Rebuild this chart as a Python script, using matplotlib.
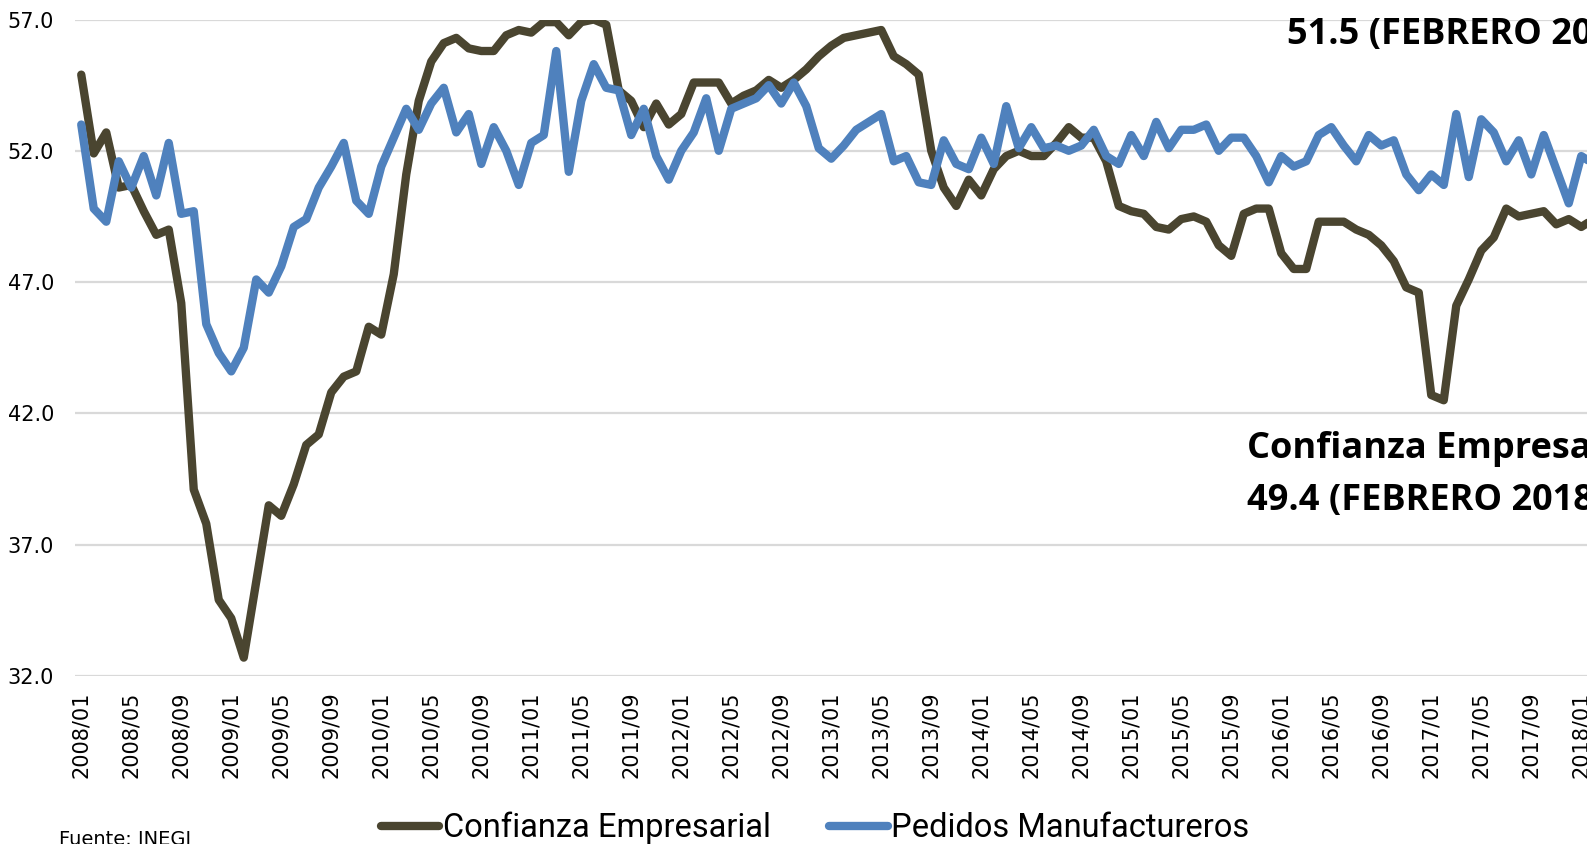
import matplotlib
matplotlib.use("Agg")
import matplotlib.pyplot as plt
import numpy as np
import pandas as pd

# Monthly indices, 2008/01 .. 2018/02
months = pd.period_range("2008-01", "2018-02", freq="M").strftime("%Y/%m").tolist()

confianza = [
    54.9, 51.9, 52.7, 50.6, 50.7, 49.7, 48.8, 49.0, 46.2, 39.1, 37.8, 34.9,
    34.2, 32.7, 35.6, 38.5, 38.1, 39.3, 40.8, 41.2, 42.8, 43.4, 43.6, 45.3,
    45.0, 47.3, 51.1, 53.9, 55.4, 56.1, 56.3, 55.9, 55.8, 55.8, 56.4, 56.6,
    56.5, 56.9, 56.9, 56.4, 56.9, 57.0, 56.8, 54.3, 53.9, 52.9, 53.8, 53.0,
    53.4, 54.6, 54.6, 54.6, 53.8, 54.1, 54.3, 54.7, 54.4, 54.7, 55.1, 55.6,
    56.0, 56.3, 56.4, 56.5, 56.6, 55.6, 55.3, 54.9, 52.0, 50.6, 49.9, 50.9,
    50.3, 51.3, 51.8, 52.0, 51.8, 51.8, 52.3, 52.9, 52.5, 52.5, 51.6, 49.9,
    49.7, 49.6, 49.1, 49.0, 49.4, 49.5, 49.3, 48.4, 48.0, 49.6, 49.8, 49.8,
    48.1, 47.5, 47.5, 49.3, 49.3, 49.3, 49.0, 48.8, 48.4, 47.8, 46.8, 46.6,
    42.7, 42.5, 46.1, 47.1, 48.2, 48.7, 49.8, 49.5, 49.6, 49.7, 49.2, 49.4,
    49.1, 49.4,
]

pedidos = [
    53.0, 49.8, 49.3, 51.6, 50.6, 51.8, 50.3, 52.3, 49.6, 49.7, 45.4, 44.3,
    43.6, 44.5, 47.1, 46.6, 47.6, 49.1, 49.4, 50.6, 51.4, 52.3, 50.1, 49.6,
    51.4, 52.5, 53.6, 52.8, 53.8, 54.4, 52.7, 53.4, 51.5, 52.9, 52.0, 50.7,
    52.3, 52.6, 55.8, 51.2, 53.9, 55.3, 54.4, 54.3, 52.6, 53.6, 51.8, 50.9,
    52.0, 52.7, 54.0, 52.0, 53.6, 53.8, 54.0, 54.5, 53.8, 54.6, 53.7, 52.1,
    51.7, 52.2, 52.8, 53.1, 53.4, 51.6, 51.8, 50.8, 50.7, 52.4, 51.5, 51.3,
    52.5, 51.5, 53.7, 52.1, 52.9, 52.1, 52.2, 52.0, 52.2, 52.8, 51.8, 51.5,
    52.6, 51.8, 53.1, 52.1, 52.8, 52.8, 53.0, 52.0, 52.5, 52.5, 51.8, 50.8,
    51.8, 51.4, 51.6, 52.6, 52.9, 52.2, 51.6, 52.6, 52.2, 52.4, 51.1, 50.5,
    51.1, 50.7, 53.4, 51.0, 53.2, 52.7, 51.6, 52.4, 51.1, 52.6, 51.3, 50.0,
    51.8, 51.5,
]

yticks = [32.0, 37.0, 42.0, 47.0, 52.0, 57.0]

C_CONF = "#4a4530"
C_PED = "#4f81bd"

W, H = 1587, 844
fig = plt.figure(figsize=(W / 100, H / 100), dpi=100)
# plot area runs past the right edge of the canvas
ax = fig.add_axes([75 / W, 1 - 676 / H, 1525 / W, 656.5 / H])

x = np.arange(len(months))
l1, = ax.plot(x, confianza, color=C_CONF, lw=6, solid_joinstyle="round",
              solid_capstyle="round", label="Confianza Empresarial", zorder=3)
l2, = ax.plot(x, pedidos, color=C_PED, lw=6, solid_joinstyle="round",
              solid_capstyle="round", label="Pedidos Manufactureros", zorder=4)

ax.set_xlim(-0.5, len(months) - 0.5)
ax.set_ylim(32, 57)
ax.set_yticks(yticks)
ax.set_yticklabels([f"{v:.1f}" for v in yticks], fontsize=15, family="DejaVu Sans")
ax.yaxis.grid(True, color="#d9d9d9", lw=1.6)
ax.set_axisbelow(True)
ax.tick_params(axis="y", length=0, pad=15)

ax.set_xticks(x[::4])
ax.set_xticklabels(months[::4], rotation=90, fontsize=15, family="DejaVu Sans")
ax.tick_params(axis="x", length=0, pad=11)

for s in ax.spines.values():
    s.set_visible(False)

fig.legend(handles=[l1, l2], loc="center", bbox_to_anchor=(815 / W, 1 - 828 / H),
           ncol=2, frameon=False, prop={"family": "Roboto", "size": 23.5},
           handlelength=1.8, handletextpad=0.1, columnspacing=1.8)

note = dict(fontsize=26, fontweight="bold", family="Open Sans", va="baseline", ha="left")
fig.text(1287 / W, 1 - 44 / H, "51.5 (FEBRERO 2018)", **note)
fig.text(1247 / W, 1 - 458 / H, "Confianza Empresarial", **note)
fig.text(1247 / W, 1 - 510 / H, "49.4 (FEBRERO 2018)", **note)

fig.text(59 / W, 1 - 830 / H, "Fuente: INEGI", fontsize=14, family="DejaVu Sans",
         va="top", ha="left")

fig.savefig("out.png", dpi=100)
